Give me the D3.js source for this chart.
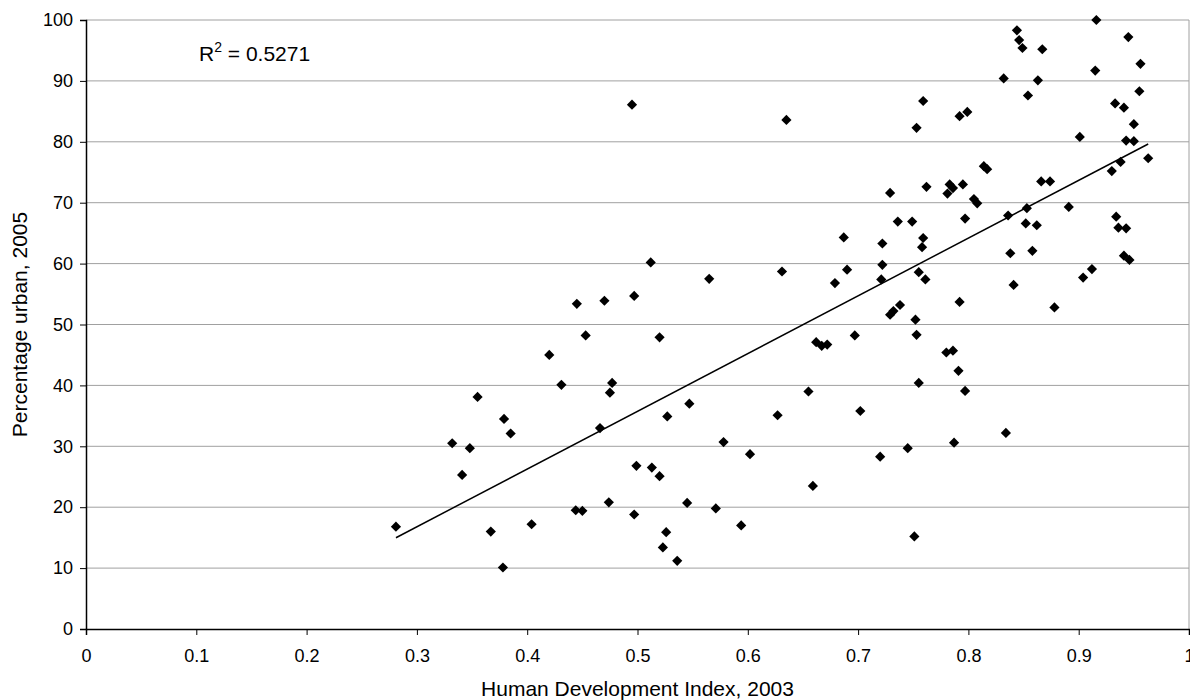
<!DOCTYPE html>
<html>
<head>
<meta charset="utf-8">
<script src="https://cdn.jsdelivr.net/npm/d3@7"></script>
<style>
  body { margin: 0; background: #fff; }
  text { font-family: "Liberation Sans", Arial, sans-serif; fill: #000; }
</style>
</head>
<body>
<svg id="chart"></svg>
<script>
// Human Development Index 2003 (x) vs percentage urban 2005 (y)
var hdi = [0.281, 0.332, 0.341, 0.348, 0.355, 0.367, 0.378, 0.379, 0.385, 0.404,
  0.420, 0.431, 0.444, 0.445, 0.450, 0.453, 0.466, 0.470, 0.474, 0.475,
  0.477, 0.495, 0.497, 0.497, 0.499, 0.512, 0.513, 0.520, 0.520, 0.523,
  0.526, 0.527, 0.536, 0.545, 0.547, 0.565, 0.571, 0.578, 0.594, 0.602,
  0.627, 0.631, 0.635, 0.655, 0.659, 0.662, 0.667, 0.672, 0.679, 0.687,
  0.690, 0.697, 0.702, 0.720, 0.721, 0.722, 0.722, 0.729, 0.729, 0.732,
  0.736, 0.738, 0.745, 0.749, 0.751, 0.752, 0.753, 0.753, 0.755, 0.755,
  0.758, 0.759, 0.759, 0.761, 0.762, 0.780, 0.781, 0.783, 0.786, 0.786,
  0.787, 0.791, 0.792, 0.792, 0.795, 0.797, 0.797, 0.799, 0.805, 0.808,
  0.814, 0.817, 0.832, 0.834, 0.836, 0.838, 0.841, 0.844, 0.846, 0.849,
  0.852, 0.853, 0.854, 0.858, 0.862, 0.863, 0.866, 0.867, 0.874, 0.878,
  0.891, 0.901, 0.904, 0.912, 0.915, 0.916, 0.930, 0.933, 0.934, 0.936,
  0.938, 0.941, 0.941, 0.943, 0.943, 0.945, 0.946, 0.950, 0.950, 0.955,
  0.956, 0.963];
var urban = [16.8, 30.5, 25.3, 29.7, 38.1, 16.0, 10.1, 34.5, 32.1, 17.2,
  45.0, 40.1, 19.5, 53.4, 19.4, 48.2, 33.0, 53.9, 20.8, 38.8,
  40.4, 86.1, 54.7, 18.8, 26.8, 60.2, 26.5, 47.9, 25.1, 13.4,
  15.9, 34.9, 11.2, 20.7, 37.0, 57.5, 19.8, 30.7, 17.0, 28.7,
  35.1, 58.7, 83.6, 39.0, 23.5, 47.1, 46.5, 46.7, 56.8, 64.3,
  59.0, 48.2, 35.8, 28.3, 57.4, 63.3, 59.8, 71.6, 51.6, 52.2,
  66.9, 53.2, 29.7, 66.9, 15.2, 50.8, 48.3, 82.3, 40.4, 58.6,
  62.7, 64.2, 86.7, 57.4, 72.6, 45.4, 71.5, 73.0, 72.4, 45.7,
  30.6, 42.4, 53.7, 84.2, 73.0, 39.1, 67.4, 84.9, 70.6, 69.9,
  76.0, 75.5, 90.4, 32.2, 67.9, 61.7, 56.5, 98.3, 96.7, 95.4,
  66.6, 69.1, 87.6, 62.1, 66.3, 90.1, 73.5, 95.2, 73.5, 52.8,
  69.3, 80.8, 57.7, 59.1, 91.7, 100, 75.2, 86.3, 67.7, 65.9,
  76.7, 85.6, 61.3, 80.2, 65.8, 97.2, 60.6, 82.9, 80.1, 88.3,
  92.8, 77.3];

var xTicks = [0, 0.1, 0.2, 0.3, 0.4, 0.5, 0.6, 0.7, 0.8, 0.9, 1];
var yTicks = [0, 10, 20, 30, 40, 50, 60, 70, 80, 90, 100];
var xTitle = "Human Development Index, 2003";
var yTitle = "Percentage urban, 2005";
var rSquared = "0.5271";

var data = hdi.map(function(d, i) { return {x: d, y: urban[i]}; });

var width = 1190, height = 700;
var margin = {top: 20, right: 1, bottom: 71, left: 86};

var svg = d3.select("#chart")
  .attr("width", width)
  .attr("height", height);

var xScale = d3.scaleLinear()
  .domain([0, 1])
  .range([margin.left, width - margin.right]);
var yScale = d3.scaleLinear()
  .domain([0, 100])
  .range([height - margin.bottom, margin.top]);

// horizontal gridlines
svg.append("g")
  .selectAll("line")
  .data(yTicks.slice(1))
  .enter().append("line")
    .attr("x1", xScale(0))
    .attr("x2", xScale(1))
    .attr("y1", function(d) { return yScale(d); })
    .attr("y2", function(d) { return yScale(d); })
    .attr("stroke", "#a0a0a0")
    .attr("stroke-width", 1);

// right border of plot area
svg.append("line")
  .attr("x1", xScale(1)).attr("x2", xScale(1))
  .attr("y1", yScale(0)).attr("y2", yScale(100))
  .attr("stroke", "#a0a0a0");

var xAxis = d3.axisBottom(xScale)
  .tickValues(xTicks)
  .tickSize(6)
  .tickFormat(function(d) { return String(d); });
var yAxis = d3.axisLeft(yScale)
  .tickValues(yTicks)
  .tickSize(6)
  .tickFormat(function(d) { return String(d); });

var gx = svg.append("g")
  .attr("transform", "translate(0," + yScale(0) + ")")
  .call(xAxis);
var gy = svg.append("g")
  .attr("transform", "translate(" + xScale(0) + ",0)")
  .call(yAxis);

[gx, gy].forEach(function(g) {
  g.select(".domain").attr("stroke", "#000").attr("stroke-width", 1.5);
  g.selectAll(".tick line").attr("stroke", "#000");
  g.selectAll(".tick text")
    .attr("font-size", "18px")
    .attr("font-family", "'Liberation Sans', Arial, sans-serif")
    .attr("fill", "#000");
});
gx.selectAll(".tick text").attr("dy", 24);
gy.selectAll(".tick text").attr("dx", -4);

// least squares trendline over the data range
var mx = d3.mean(hdi), my = d3.mean(urban);
var sxy = d3.sum(data, function(d) { return (d.x - mx) * (d.y - my); });
var sxx = d3.sum(data, function(d) { return (d.x - mx) * (d.x - mx); });
var slope = sxy / sxx;
var intercept = my - slope * mx;
var xr = d3.extent(hdi);

svg.append("line")
  .attr("x1", xScale(xr[0]))
  .attr("y1", yScale(intercept + slope * xr[0]))
  .attr("x2", xScale(xr[1]))
  .attr("y2", yScale(intercept + slope * xr[1]))
  .attr("stroke", "#000")
  .attr("stroke-width", 1.5);

// diamond markers
var diamond = d3.symbol().type(d3.symbolSquare).size(52);
svg.append("g")
  .selectAll(".dot")
  .data(data)
  .enter().append("path")
    .attr("class", "dot")
    .attr("d", diamond)
    .attr("transform", function(d) {
      return "translate(" + xScale(d.x) + "," + yScale(d.y) + ") rotate(45)";
    })
    .attr("fill", "#000");

// R squared label
var rt = svg.append("text")
  .attr("x", 199)
  .attr("y", 61)
  .attr("font-size", "21px");
rt.append("tspan").text("R");
rt.append("tspan").attr("dy", -9).attr("font-size", "14px").text("2");
rt.append("tspan").attr("dy", 9).text(" = " + rSquared);

// axis titles
svg.append("text")
  .attr("x", (xScale(0) + xScale(1)) / 2)
  .attr("y", 696)
  .attr("text-anchor", "middle")
  .attr("font-size", "21px")
  .text(xTitle);

svg.append("text")
  .attr("transform", "translate(27," + ((yScale(0) + yScale(100)) / 2) + ") rotate(-90)")
  .attr("text-anchor", "middle")
  .attr("font-size", "21px")
  .text(yTitle);
</script>
</body>
</html>
